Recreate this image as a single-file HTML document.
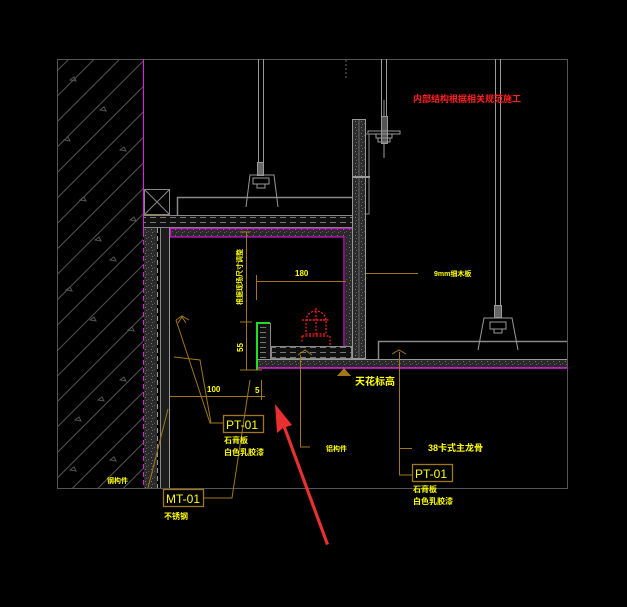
<!DOCTYPE html>
<html><head><meta charset="utf-8"><style>
html,body{margin:0;padding:0;background:#000;width:627px;height:607px;overflow:hidden}
svg{display:block}
.y{fill:#ffff00;font-family:"Liberation Sans","Noto Sans CJK SC",sans-serif;font-weight:bold}
</style></head><body>
<svg width="627" height="607" viewBox="0 0 627 607" xmlns="http://www.w3.org/2000/svg">
<defs>
<pattern id="sp" width="6" height="6" patternUnits="userSpaceOnUse">
<rect width="6" height="6" fill="#2a2a2a"/><rect x="1" y="1" width="1" height="1" fill="#777"/><rect x="4" y="3" width="1" height="1" fill="#555"/><rect x="2" y="4" width="1" height="1" fill="#666"/>
</pattern>
<pattern id="hatch" width="18" height="18" patternUnits="userSpaceOnUse" patternTransform="rotate(-45)">
<line x1="0" y1="0.5" x2="18" y2="0.5" stroke="#555" stroke-width="1"/>
</pattern>
<pattern id="brd" width="10" height="5" patternUnits="userSpaceOnUse">
<rect width="10" height="5" fill="#111"/><line x1="0" y1="2.5" x2="6" y2="2.5" stroke="#777" stroke-width="1"/>
</pattern>
</defs>
<rect width="627" height="607" fill="#000"/>
<rect x="57.5" y="59.5" width="510" height="429" fill="none" stroke="#555"/>
<rect x="58" y="60" width="85" height="428" fill="url(#hatch)"/>
<g fill="none" stroke="#555" stroke-width="1">
<path d="M70 80l4 -3 2 4z M100 110l4 -3 2 4z M120 150l4 -3 2 4z M80 200l4 -3 2 4z M110 260l4 -3 2 4z M90 320l4 -3 2 4z M120 380l4 -3 2 4z M75 420l4 -3 2 4z M110 460l4 -3 2 4z M130 220l4 -3 2 4z M64 140l4 -3 2 4z M95 240l4 -3 2 4z M66 290l4 -3 2 4z M128 330l4 -3 2 4z M98 400l4 -3 2 4z M70 470l4 -3 2 4z"/>
</g>
<line x1="143.5" y1="59" x2="143.5" y2="232" stroke="#e020e0"/>
<line x1="143.5" y1="232" x2="143.5" y2="488" stroke="#e020e0" stroke-dasharray="5,3"/>
<rect x="144" y="228" width="13" height="260" fill="url(#sp)"/>
<line x1="157.5" y1="228" x2="157.5" y2="488" stroke="#999" stroke-dasharray="5,3"/>
<line x1="160.5" y1="228" x2="160.5" y2="488" stroke="#888"/>
<rect x="161" y="228" width="8" height="260" fill="#1c1c1c"/>
<line x1="169.5" y1="228" x2="169.5" y2="488" stroke="#999"/>
<rect x="144.5" y="189.5" width="25" height="25" fill="none" stroke="#888"/>
<path d="M145 190L169 214M169 190L145 214" stroke="#888"/>
<line x1="144" y1="215" x2="166" y2="215" stroke="#a07818"/>
<path d="M177.5 215V197.5H352" fill="none" stroke="#888" stroke-width="1.5"/>
<rect x="144" y="215" width="208" height="13" fill="url(#brd)"/>
<line x1="144" y1="215.5" x2="352" y2="215.5" stroke="#888"/>
<line x1="144" y1="227.5" x2="352" y2="227.5" stroke="#888"/>
<rect x="170" y="228" width="182" height="9" fill="url(#sp)"/>
<path d="M170 228.5H352M170.5 228V237H344V346H352" fill="none" stroke="#d010d0" stroke-width="1.3"/>
<rect x="345" y="237" width="7" height="109" fill="url(#sp)"/>
<rect x="352" y="119" width="14" height="240" fill="url(#sp)"/>
<rect x="352.5" y="119.5" width="13" height="239" fill="none" stroke="#999"/>
<line x1="359" y1="120" x2="359" y2="358" stroke="#666"/>
<path d="M366 134H369V214H366" fill="none" stroke="#888"/>
<path d="M353 177H370" stroke="#999" stroke-width="2"/>
<rect x="271" y="346" width="81" height="13" fill="url(#brd)"/>
<rect x="271.5" y="346.5" width="80" height="12" fill="none" stroke="#888"/>
<rect x="258" y="359" width="309" height="9" fill="url(#sp)"/>
<line x1="258" y1="359.5" x2="567" y2="359.5" stroke="#999"/>
<line x1="258" y1="368" x2="567" y2="368" stroke="#e020e0" stroke-width="1.5"/>
<path d="M378.5 359V341.5H567" fill="none" stroke="#888" stroke-width="1.5"/>
<rect x="260" y="324" width="10" height="35" fill="url(#brd)"/>
<path d="M257 370V323H270" fill="none" stroke="#20e020" stroke-width="2"/>
<line x1="270.5" y1="323" x2="270.5" y2="359" stroke="#888"/>
<g fill="none" stroke="#999" stroke-width="1">
<path d="M258.5 59V162M263.5 59V162"/>
<rect x="257.5" y="162.5" width="6" height="13" fill="#666"/>
<path d="M246 207L250 175H274L278 207M250 175H274"/>
<rect x="253" y="178" width="16" height="6"/><rect x="257" y="184" width="8" height="4"/>
<path d="M381.5 59V116M386.5 59V116M384 100V158"/>
<rect x="381.5" y="116.5" width="6" height="27" fill="#555"/>
<path d="M368 133V131H400V134H368 M376 134V138H392V134 M378 138V142H390V138"/>
<path d="M495.5 59V305M500.5 59V305"/>
<rect x="494.5" y="305.5" width="7" height="12" fill="#666"/>
<path d="M478 350L484 318H512L518 350M484 318H512"/>
<rect x="490" y="322" width="16" height="7"/><rect x="494" y="329" width="8" height="4"/>
</g>
<path d="M346 60V78" stroke="#666" stroke-dasharray="2,2"/>
<g fill="none" stroke="#ff2020" stroke-dasharray="2,1.5" stroke-width="1.2">
<path d="M306 321a10 10 0 0 1 20 0"/>
<rect x="306" y="320" width="20" height="14"/>
<path d="M302 320H330M316 308V336M302 336H330V345M302 336V342"/>
</g>
<g fill="none" stroke="#a07818" stroke-width="1">
<path d="M246.5 232V370M240 232H250M240 322H252M240 370H262"/>
<path d="M256.5 275V300M256 281.5H346"/>
<path d="M170 396.5H265M261.5 380V400"/>
<path d="M366 273.5H418"/>
<path d="M300.5 355V447H310"/>
<path d="M399.5 352V475H412M399 448.5H412"/>
<path d="M176 320L210 423H223"/>
<path d="M176 320L182 316L189 320M178 323L182 317L186 323"/>
<path d="M174 357L200 360L211 423"/>
<path d="M250 380L232 498H203"/>
<path d="M168 409L148 488"/>
<path d="M392 354L399 350L406 354M298 355L305 350L312 355"/>
</g>
<path d="M337 376L344 368L351 376Z" fill="#a07818"/>
<g fill="none" stroke="#a07818" stroke-width="1.3">
<rect x="223.5" y="415.5" width="40" height="17"/>
<rect x="163.5" y="489.5" width="40" height="17"/>
<rect x="412.5" y="464.5" width="40" height="17"/>
</g>
<g class="y">
<text x="226" y="429" font-size="12" font-weight="normal">PT-01</text>
<text x="166" y="503" font-size="12" font-weight="normal">MT-01</text>
<text x="415" y="478" font-size="12" font-weight="normal">PT-01</text>
<text x="224" y="443" font-size="8">石膏板</text>
<text x="224" y="455" font-size="8">白色乳胶漆</text>
<text x="164" y="519" font-size="8">不锈钢</text>
<text x="413" y="492" font-size="8">石膏板</text>
<text x="413" y="504" font-size="8">白色乳胶漆</text>
<text x="428" y="451" font-size="9">38卡式主龙骨</text>
<text x="326" y="451" font-size="7">铝构件</text>
<text x="107" y="483" font-size="7">钢构件</text>
<text x="434" y="276" font-size="7">9mm细木板</text>
<text x="355" y="385" font-size="10">天花标高</text>
<text x="295" y="276" font-size="8">180</text>
<text x="207" y="392" font-size="8">100</text>
<text x="255" y="393" font-size="8">5</text>
<text x="0" y="0" font-size="8" transform="translate(243 352) rotate(-90)">55</text>
<text x="0" y="0" font-size="7" transform="translate(242 305) rotate(-90)">根据现场尺寸调整</text>
</g>
<text x="413" y="102" font-size="9" fill="#ff2020" font-weight="bold" font-family="Liberation Sans,'Noto Sans CJK SC',sans-serif">内部结构根据相关规范施工</text>
<path d="M326 545L283 428L277 433L275 404L292 425L286 427L329 544Z" fill="#e83030"/>
</svg>
</body></html>
